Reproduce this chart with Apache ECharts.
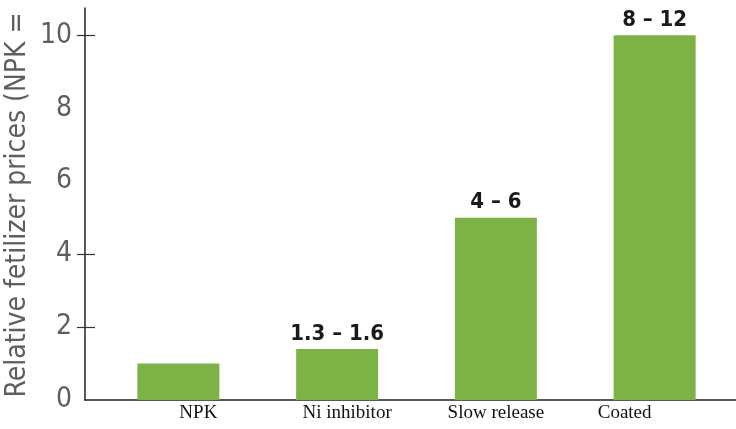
<!DOCTYPE html>
<html>
<head>
<meta charset="utf-8">
<script src="https://cdn.jsdelivr.net/npm/echarts@6/dist/echarts.min.js"></script>
<style>
html,body{margin:0;padding:0;background:#fff;}
#chart{width:736px;height:429px;}
</style>
</head>
<body>
<div id="chart"></div>
<script>
const categories = ["NPK", "Ni inhibitor", "Slow release", "Coated"];
const values = [1, 1.4, 5, 10];
const rangeLabels = ["", "1.3 – 1.6", "4 – 6", "8 – 12"];
const yLabelValues = [0, 2, 4, 6, 8, 10];
const yTickValues = [2, 4, 10];
const yTitle = "Relative fetilizer prices (NPK =";

const yMax = 10.75;
const narrow = '"Liberation Sans Narrow", "DejaVu Sans Condensed", sans-serif';
const labelShift = { "NPK": 20, "Ni inhibitor": 10, "Slow release": 0, "Coated": -30 };

const chart = echarts.init(document.getElementById('chart'), null, { renderer: 'canvas' });
const rich = {};
categories.forEach((c, i) => {
  const s = labelShift[c] || 0;
  rich['c' + i] = {
    fontFamily: '"Liberation Serif", "DejaVu Serif", serif',
    fontSize: 19,
    color: '#111',
    padding: s >= 0 ? [0, 0, 0, 2 * s] : [0, -2 * s, 0, 0]
  };
});

chart.setOption({
  animation: false,
  backgroundColor: '#fff',
  grid: [
    { left: 85, right: 0, top: 8, bottom: 29 },
    { left: 99, right: 2, top: 8, bottom: 29 }
  ],
  xAxis: [
    {
      gridIndex: 0, type: 'value', min: 0, max: 1,
      axisLine: { show: true, lineStyle: { color: '#222', width: 1.5 } },
      axisTick: { show: false }, axisLabel: { show: false }, splitLine: { show: false }
    },
    {
      gridIndex: 1, type: 'category', data: categories,
      axisLine: { show: false }, axisTick: { show: false },
      axisLabel: {
        margin: 4,
        formatter: (v, i) => '{c' + i + '|' + v + '}',
        rich: rich
      }
    }
  ],
  yAxis: [
    {
      gridIndex: 0, type: 'value', position: 'left', min: 0, max: yMax, interval: 2,
      axisLine: { show: true, lineStyle: { color: '#222', width: 1.5 } },
      axisTick: { show: true, length: 8, customValues: yTickValues, lineStyle: { color: '#333', width: 1.2 } },
      axisLabel: {
        customValues: yLabelValues, margin: 13,
        fontFamily: narrow, fontSize: 28, color: '#5e5e5e'
      },
      splitLine: { show: false }
    },
    {
      gridIndex: 0, type: 'value', position: 'left', offset: 0, min: 0, max: yMax, interval: 2,
      axisLine: { show: false },
      axisTick: { show: true, inside: true, length: 10, customValues: yTickValues, lineStyle: { color: '#333', width: 1.2 } },
      axisLabel: { show: false },
      splitLine: { show: false }
    },
    {
      gridIndex: 1, type: 'value', min: 0, max: yMax, show: false
    }
  ],
  graphic: [
    {
      type: 'text',
      x: 18, y: 205,
      rotation: Math.PI / 2,
      style: {
        text: yTitle,
        fontFamily: narrow,
        fontSize: 28,
        fill: '#5e5e5e',
        align: 'center',
        verticalAlign: 'middle'
      }
    }
  ],
  series: [
    {
      type: 'bar',
      xAxisIndex: 1, yAxisIndex: 2,
      data: values,
      barWidth: 82,
      itemStyle: { color: '#7db346' },
      label: {
        show: true, position: 'top', distance: 4,
        formatter: p => rangeLabels[p.dataIndex],
        fontFamily: narrow, fontWeight: 'bold', fontSize: 22, color: '#1a1a1a'
      }
    }
  ]
});
</script>
</body>
</html>
